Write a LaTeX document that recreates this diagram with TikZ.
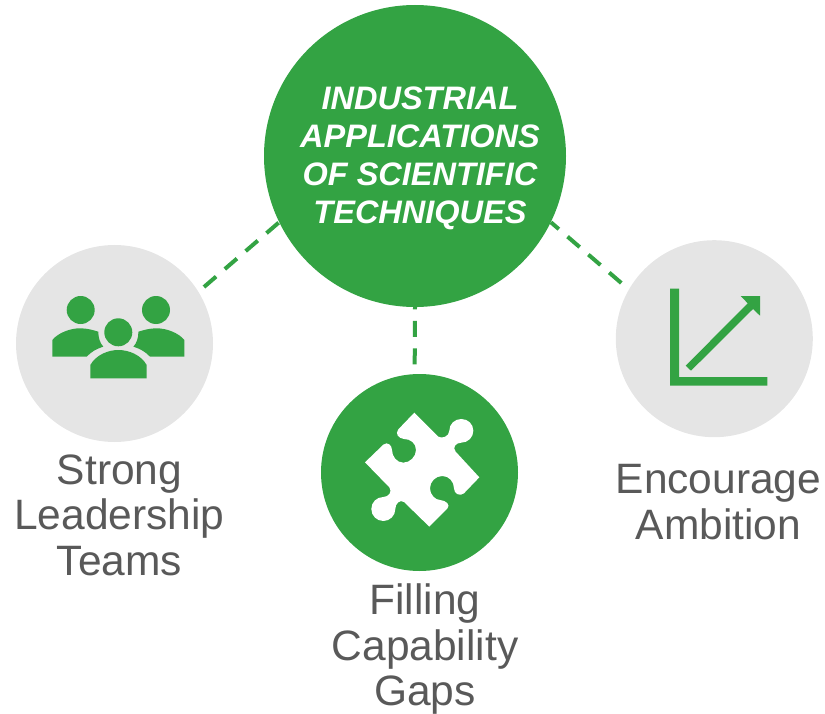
\documentclass[tikz,border=0pt]{standalone}
\usepackage{fontspec}
\setmainfont{Liberation Sans}
\definecolor{leafgreen}{HTML}{33A343}
\definecolor{softgray}{HTML}{E5E5E5}
\definecolor{labelgray}{HTML}{595959}
\begin{document}
\begin{tikzpicture}[x=1pt,y=-1pt,
    every node/.style={shape=circle,inner sep=0pt,align=center},
    hub/.style={fill=leafgreen,minimum size=302pt},
    spoke/.style={fill=softgray,minimum size=197pt},
    caption/.style={shape=rectangle,text=labelgray,font=\fontsize{42.5}{45.5}\selectfont},
    link/.style={draw=leafgreen,line width=4pt,dash pattern=on 16pt off 11.5pt}]
  \useasboundingbox (0,0) rectangle (825,714);
  \node[hub] (core) at (415,156) {};
  \node[shape=rectangle,text=white,font=\fontsize{32.5}{38}\selectfont\bfseries\itshape] (coretext) at (420,158.5) {INDUSTRIAL\\APPLICATIONS\\OF SCIENTIFIC\\TECHNIQUES};
  \node[spoke] (lead) at (114.5,343.5) {};
  \node[spoke,fill=leafgreen] (gaps) at (419.5,472.5) {};
  \node[spoke] (grow) at (714.3,338.7) {};
  \node[caption] (leadtext) at (119.5,515) {Strong\\Leadership\\Teams};
  \node[caption] (gapstext) at (425,649.5) {Filling\\Capability\\Gaps};
  \node[caption] (growtext) at (718.5,502) {Encourage\\Ambition};
  % dashes
  \coordinate (leadend) at (204,287);
  \coordinate (gapsend) at (414.7,364.3);
  \coordinate (growend) at (621.3,283);
  \draw[link] (leadend) -- (core.206);
  \draw[link] (gapsend) -- (core.south);
  \draw[link] (growend) -- (core.-26);
  % people
  \begin{scope}[fill=leafgreen]
    \fill (80.7,310) circle (14);
    \fill (156,310) circle (14);
    \fill (118.3,332.3) circle (14);
    \fill (52.3,356.7) -- (52.3,340) .. controls (58,333) and (70,328.3) .. (80,328.3) .. controls (87,328.3) and (93,330) .. (98.3,331.7) .. controls (98.3,338) and (100,343) .. (103.3,346.7) .. controls (96,349) and (91,352) .. (86.7,356.7) -- cycle;
    \fill (184.4,356.7) -- (184.4,340) .. controls (178.7,333) and (166.7,328.3) .. (156.7,328.3) .. controls (149.7,328.3) and (143.7,330) .. (138.4,331.7) .. controls (138.4,338) and (136.7,343) .. (133.4,346.7) .. controls (140.7,349) and (145.7,352) .. (150,356.7) -- cycle;
    \fill (90.3,378.3) -- (90.3,365) .. controls (96,355) and (108,350) .. (118.3,350) .. controls (129,350) and (141,355) .. (146.7,365) -- (146.7,378.3) -- cycle;
  \end{scope}
  % puzzle
  \begin{scope}[shift={(320,370)},x=0.3333pt,y=-0.3333pt]
    \fill[white] (283,128) -- (355,200) .. controls (365,207) and (388,200) .. (388,182)
      .. controls (388,162) and (404,147) .. (424,147) .. controls (444,147) and (460,162) .. (460,182)
      .. controls (460,202) and (444,218) .. (424,218) .. controls (408,218) and (396,232) .. (407,245)
      -- (478,322) -- (432,370) .. controls (420,380) and (402,372) .. (402,355)
      .. controls (402,335) and (387,318) .. (367,318) .. controls (347,318) and (330,335) .. (330,355)
      .. controls (330,375) and (347,390) .. (360,390) .. controls (380,392) and (392,405) .. (382,416)
      -- (328,470) -- (252,396) .. controls (240,388) and (226,400) .. (226,417)
      .. controls (226,437) and (210,453) .. (190,453) .. controls (170,453) and (154,437) .. (154,417)
      .. controls (154,397) and (170,381) .. (190,381) .. controls (206,381) and (218,365) .. (208,352)
      -- (135,277) -- (190,224) .. controls (202,214) and (216,225) .. (216,240)
      .. controls (216,260) and (231,278) .. (250,278) .. controls (270,278) and (288,260) .. (288,240)
      .. controls (288,220) and (272,207) .. (252,207) .. controls (236,205) and (224,192) .. (235,178) -- cycle;
  \end{scope}
  % chart
  \fill[leafgreen] (670,288.7) -- (679,288.7) -- (679,377) -- (767.3,377) -- (767.3,385.7) -- (670,385.7) -- cycle;
  \fill[leafgreen] (685.7,365.7) -- (747.7,303.3) -- (740.7,296) -- (760,296) -- (760,315.7) -- (753,309) -- (691,370.7) -- cycle;
\end{tikzpicture}
\end{document}
